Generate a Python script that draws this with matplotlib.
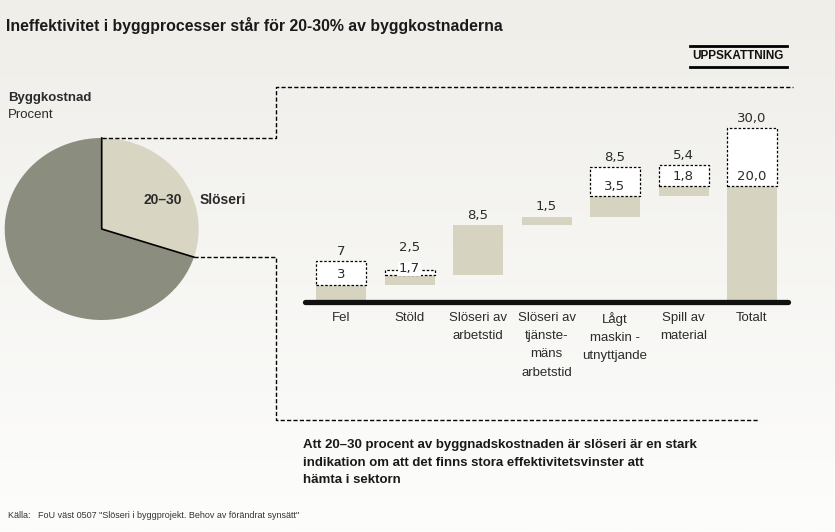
import numpy as np
import matplotlib
matplotlib.use("Agg")
import matplotlib.pyplot as plt
import matplotlib.font_manager as fm
from matplotlib.patches import Rectangle

# ---- data ----
categories = ["Fel", "Stöld", "Slöseri av\narbetstid", "Slöseri av\ntjänste-\nmäns\narbetstid",
              "Lågt\nmaskin -\nutnyttjande", "Spill av\nmaterial", "Totalt"]
low_values = [3, 1.7, 8.5, 1.5, 3.5, 1.8, 20.0]
high_values = [7, 2.5, 8.5, 1.5, 8.5, 5.4, 30.0]
low_labels = ["3", "1,7", "", "", "3,5", "1,8", "20,0"]
high_labels = ["7", "2,5", "8,5", "1,5", "8,5", "5,4", "30,0"]
is_total = [False, False, False, False, False, False, True]

pie_values = [30, 70]          # slöseri (övre värdet) / resten
pie_colors = ["#d8d5c3", "#8b8d7f"]

bar_color = "#d6d3c1"
txt_color = "#2b2b2b"

# ---- fonts ----
names = {f.name for f in fm.fontManager.ttflist}
narrow = "Liberation Sans Narrow" if "Liberation Sans Narrow" in names else "Liberation Sans"
plt.rcParams["font.family"] = ["Liberation Sans", "DejaVu Sans"]
num_font = ["DejaVu Sans"]

W, H = 835, 532
fig = plt.figure(figsize=(W / 100, H / 100), dpi=100)


def fx(px):
    return px / W


def fy(py):
    return 1 - py / H


# bakgrund med svag gradient
bg = fig.add_axes([0, 0, 1, 1], zorder=-10)
grad = np.linspace(0, 1, 256).reshape(-1, 1)
bg.imshow(grad, aspect="auto", cmap=matplotlib.colors.LinearSegmentedColormap.from_list(
    "bg", ["#efeee9", "#fdfdfc"]), extent=[0, 1, 0, 1], origin="upper")
bg.set_xlim(0, 1)
bg.set_ylim(0, 1)
bg.axis("off")

# ---- titel och rubriker ----
title_size = 12.5 if narrow != "Liberation Sans" else 11.4
fig.text(fx(6), fy(25), "Ineffektivitet i byggprocesser står för 20-30% av byggkostnaderna",
         family=narrow, weight="bold", fontsize=title_size, color="#1a1a1a", va="center")
fig.text(fx(738), fy(56), "UPPSKATTNING", family=narrow, weight="bold", fontsize=8.5,
         ha="center", va="center", color="#111")
for yy in (45.5, 66.5):
    fig.add_artist(plt.Line2D([fx(690), fx(787)], [fy(yy), fy(yy)], color="black", lw=2))

fig.text(fx(8), fy(98), "Byggkostnad", weight="bold", fontsize=9.5, color=txt_color, va="center")
fig.text(fx(8), fy(115), "Procent", fontsize=9.5, color=txt_color, va="center")

# ---- pie ----
pcx, pcy = 101.7, 229
prx, pry = 97, 91
pax = fig.add_axes([fx(pcx - prx), fy(pcy + pry), 2 * prx / W, 2 * pry / H])
pax.pie(pie_values, colors=pie_colors, startangle=90, counterclock=False,
        wedgeprops=dict(linewidth=0))
pax.set_aspect("auto")
pax.set_xlim(-1, 1)
pax.set_ylim(-1, 1)
ang = np.deg2rad(90 - 360 * pie_values[0] / sum(pie_values))
pax.plot([0, 0, np.cos(ang)], [1, 0, np.sin(ang)], color="black", lw=1.2, clip_on=False)
pax.axis("off")

fig.text(fx(163), fy(200), "20–30", weight="bold", fontsize=10, color=txt_color,
         ha="center", va="center")
fig.text(fx(200), fy(200), "Slöseri", weight="bold", fontsize=10, color=txt_color,
         ha="left", va="center")

# ---- streckade förbindelselinjer ----
dash = dict(color="black", lw=1, linestyle=(0, (3, 1.6)))
ex, ey = pcx + prx * np.cos(ang), pcy - pry * np.sin(ang)
fig.add_artist(plt.Line2D([fx(pcx), fx(275.5), fx(275.5), fx(793)],
                          [fy(pcy - pry), fy(pcy - pry), fy(87), fy(87)], **dash))
fig.add_artist(plt.Line2D([fx(ex), fx(275.5), fx(275.5), fx(758)],
                          [fy(ey), fy(ey), fy(420), fy(420)], **dash))

# ---- vattenfall ----
x0, step = 341, 68.5
base_py, upp = 302, 5.8
ax_top = 110
ax = fig.add_axes([fx(300), fy(base_py), (795 - 300) / W, (base_py - ax_top) / H])
ax.set_xlim(-(x0 - 300) / step, (795 - x0) / step)
ax.set_ylim(0, (base_py - ax_top) / upp)
ax.axis("off")

bw = 50 / step
cum = 0.0
for i, (lo, hi) in enumerate(zip(low_values, high_values)):
    base = 0.0 if is_total[i] else cum
    ax.bar(i, lo, bottom=base, width=bw, color=bar_color, linewidth=0, zorder=2)
    top_px = (base + lo) * upp
    if hi > lo:
        ax.add_patch(Rectangle((i - bw / 2, base + lo), bw, hi - lo, facecolor="white",
                               edgecolor="black", lw=0.9, linestyle=(0, (2, 1.5)), zorder=3))
        low_px = (base + lo) * upp
        dash_px = (hi - lo) * upp
        low_off = min(10, dash_px / 2 + 3.5)
        ax.annotate(low_labels[i], (i, base + lo), xytext=(0, low_off * 0.72),
                    textcoords="offset points", ha="center", va="center", fontsize=9.5,
                    family=num_font, color=txt_color, zorder=5,
                    bbox=dict(boxstyle="square,pad=0.05", fc="white", ec="none"))
        top_px = max((base + hi) * upp + 10, low_px + low_off + 21)
    else:
        top_px += 10
    ax.annotate(high_labels[i], (i, 0), xytext=(0, top_px * 0.72), textcoords="offset points",
                ha="center", va="center", fontsize=9.5, family=num_font, color=txt_color)
    ax.annotate(categories[i], (i, 0), xytext=(0, -7), textcoords="offset points",
                ha="center", va="top", fontsize=9.5, color=txt_color, linespacing=1.7)
    if not is_total[i]:
        cum += lo

ax.plot([-(x0 - 305) / step, (788 - x0) / step], [0, 0], color="#111", lw=3.8,
        solid_capstyle="round", clip_on=False, zorder=4)

# ---- slutsats och källa ----
fig.text(fx(303), fy(445), "Att 20–30 procent av byggnadskostnaden är slöseri är en stark",
         weight="bold", fontsize=9.5, color="#1a1a1a", va="center")
fig.text(fx(303), fy(463), "indikation om att det finns stora effektivitetsvinster att",
         weight="bold", fontsize=9.5, color="#1a1a1a", va="center")
fig.text(fx(303), fy(480), "hämta i sektorn", weight="bold", fontsize=9.5, color="#1a1a1a", va="center")

fig.text(fx(8), fy(516), "Källa:   FoU väst 0507 \"Slöseri i byggprojekt. Behov av förändrat synsätt\"",
         fontsize=6.5, color="#333", va="center")

fig.savefig("out.png", dpi=100)
